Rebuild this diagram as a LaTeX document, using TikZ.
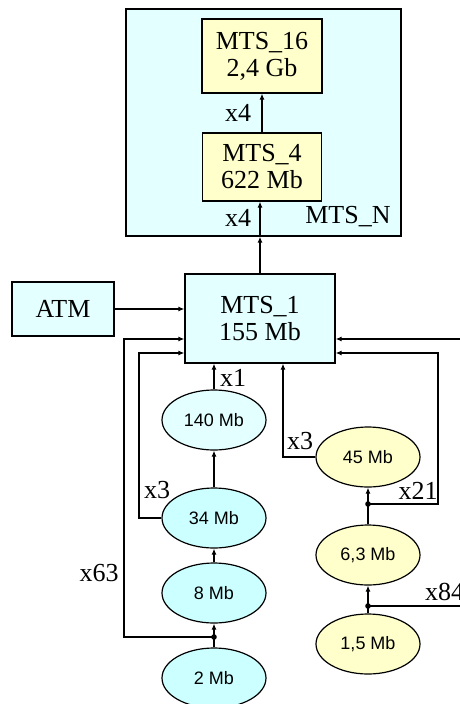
\documentclass[tikz,border=0pt]{standalone}
\usepackage{fontspec}
\setmainfont{Liberation Serif}
\newfontfamily\ellfont{Liberation Sans}
\usetikzlibrary{shapes.geometric,arrows.meta}
\definecolor{palecyan}{HTML}{E3FFFF}
\definecolor{lightcyan}{HTML}{CCFFFF}
\definecolor{paleyellow}{HTML}{FFFFCC}
\tikzset{
  mtsbox/.style={draw, line width=1.2pt, align=center, inner sep=0pt,
    font=\fontsize{26}{27}\selectfont},
  rate/.style={draw, ellipse, line width=1.2pt, minimum width=104pt,
    minimum height=60pt, inner sep=0pt, font=\ellfont\fontsize{18}{20}\selectfont},
  mult/.style={font=\fontsize{26}{27}\selectfont, inner sep=0pt},
  link/.style={line width=1.2pt, -{Latex[length=6pt,width=5pt]}},
  wire/.style={line width=1.2pt},
}
\begin{document}
\begin{tikzpicture}[x=1pt,y=-1pt]
    \useasboundingbox (0,0) rectangle (460,704);
    \clip (0,0) rectangle (460,704);

    % upper group
    \node[mtsbox, fill=palecyan, minimum width=275pt, minimum height=227pt] (mtsn) at (263.5,122.5) {};
    \node[mult] (mtsnlabel) at (348,217) {MTS\_N};
    \node[mtsbox, fill=paleyellow, minimum width=120pt, minimum height=74pt] (mts16) at (262,56) {MTS\_16\\2,4 Gb};
    \node[mtsbox, fill=paleyellow, minimum width=119pt, minimum height=68pt] (mts4) at (262,167) {MTS\_4\\622 Mb};

    % main multiplexer
    \node[mtsbox, fill=palecyan, minimum width=150pt, minimum height=89pt] (mts1) at (260,318.5) {MTS\_1\\155 Mb};
    \node[mtsbox, fill=palecyan, minimum width=102pt, minimum height=54pt] (atm) at (63,309) {ATM};

    % left tributaries
    \node[rate, fill=palecyan] (r140) at (214,420) {140 Mb};
    \node[rate, fill=lightcyan] (r34) at (214,518) {34 Mb};
    \node[rate, fill=lightcyan] (r8) at (214,593) {8 Mb};
    \node[rate, fill=lightcyan] (r2) at (214,678) {2 Mb};

    % right tributaries
    \node[rate, fill=paleyellow] (r45) at (368,457) {45 Mb};
    \node[rate, fill=paleyellow] (r63) at (368,555) {6,3 Mb};
    \node[rate, fill=paleyellow] (r15) at (368,644) {1,5 Mb};

    \coordinate (j2) at (214,637);
    \coordinate (j63) at (368,504);
    \coordinate (j15) at (368,606);

    % links
    \draw[link] (mts4.north) -- (mts16.south);
    \draw[link] (mts1.north) -- (mts1.north |- mtsn.south);
    \draw[link] (mts1.north |- mtsn.south) -- (mts1.north |- mts4.south);
    \draw[link] (atm.east) -- (mts1.west |- atm.east);

    \draw[link] (r140.north) -- (r140.north |- mts1.south);
    \draw[link] (r34) -- (r140);
    \draw[link] (r8) -- (r34);
    \draw[wire] (r2.north) -- (j2);
    \draw[link] (j2) -- (r8.south);
    \draw[link] (r34.west) -| (139,353) -- (mts1.west |- 0,353);
    \draw[link] (j2) -| (124,339) -- (mts1.west |- 0,339);

    \draw[link] (r45.west) -| (mts1.south -| 283,0);
    \draw[wire] (r63.north) -- (j63);
    \draw[link] (j63) -- (r45.south);
    \draw[link] (j63) -| (438,353) -- (mts1.east |- 0,353);
    \draw[wire] (r15.north) -- (j15);
    \draw[link] (j15) -- (r63.south);
    \draw[link] (j15) -| (470,339) -- (mts1.east |- 0,339);

    \foreach \j in {j2,j63,j15}
        {\fill (\j) circle (2.8pt);}

    % multiplicities
    \node[mult] (m16) at (238,113) {x4};
    \node[mult] (m4) at (238,218) {x4};
    \node[mult] (m140) at (233,378) {x1};
    \node[mult] (m34) at (157,490) {x3};
    \node[mult] (m2) at (99,573) {x63};
    \node[mult] (m45) at (300,441) {x3};
    \node[mult] (m63) at (418,491) {x21};
    \node[mult, anchor=west] (m15) at (425,592) {x84};
\end{tikzpicture}
\end{document}
